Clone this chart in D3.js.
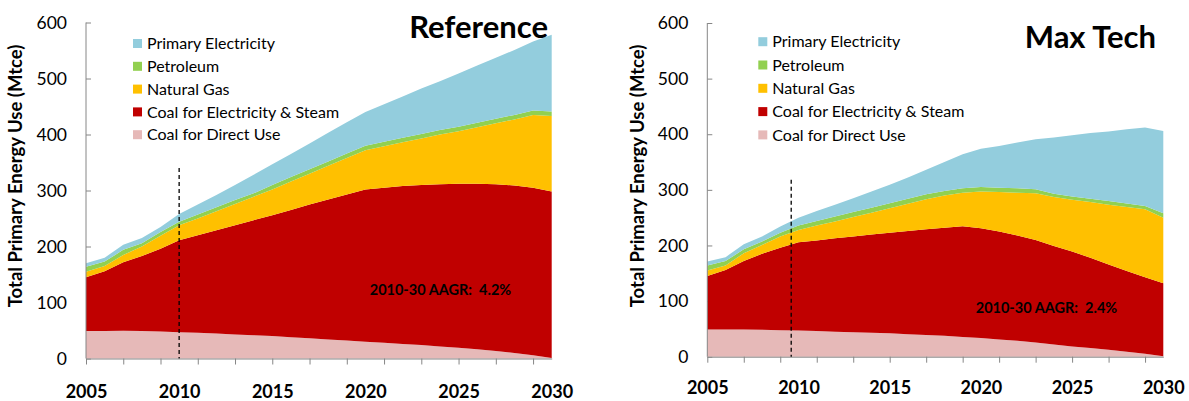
<!DOCTYPE html>
<html>
<head>
<meta charset="utf-8">
<script src="https://cdn.jsdelivr.net/npm/d3@7"></script>
<style>
  html, body { margin: 0; padding: 0; background: #fff; }
  svg { display: block; font-family: Lato, "Open Sans", sans-serif; }
</style>
</head>
<body>
<svg id="chart" width="1189" height="401"></svg>
<script>
// ---------------- DATA ----------------
const years = [2005,2006,2007,2008,2009,2010,2011,2012,2013,2014,2015,2016,2017,2018,2019,2020,2021,2022,2023,2024,2025,2026,2027,2028,2029,2030];

const seriesNames = ["Primary Electricity", "Petroleum", "Natural Gas", "Coal for Electricity & Steam", "Coal for Direct Use"];
const seriesColors = ["#93CDDD", "#92D050", "#FFC000", "#C00000", "#E6B9B8"];

// Reference scenario (Mtce)
const refCoalDirect = [49,49,49.5,49,48,47,46,44.5,43,41.5,40,38,36,34,32,30,28,26,24,21.5,19,16.5,13.5,10,6,1];
const refCoalElec   = [96,107,122.5,134,148,164,174,184.5,195,205.5,216,227,239,250,261,272,277,282,286,289.5,293,295.5,297.5,299,299,297];
const refNaturalGas = [10,9,13,17,23,27,30,34,38,42,46,51,55,60,65,70,74,78,83,89,94,101,109,118,130,135];
const refPetroleum  = [9,8,9,6,7,6,7,7,7,6,8,8,8,8,8,8,8,8,8,8,8,8,8,8,8,8];
const refPrimaryEl  = [6,7,9,9,9,14,18,22,27,33,37,41,46,51,56,60,67,74,81,87,95,102,109,116,123,137];

// Max Tech scenario (Mtce)
const mtCoalDirect = [49,49,49,48.5,47.5,47,46,45,44,43,42,40.5,39,37.5,35.5,33.5,31,28.5,25.5,22,18.5,15.5,12.5,9,5.5,1];
const mtCoalElec   = [96,107,123,136.5,148.5,159,163,168,172,176.5,181,185.5,190,194.5,199,197.5,194,189.5,184.5,177,170.5,162.5,153.5,145,137.5,131];
const mtNaturalGas = [10,8,14,16,20,22,27,30,35,39.5,44,49,54,58,60.5,66,71,77,84,88,93,100,107,115,122,118];
const mtPetroleum  = [9,8,7,6,7,8,8,9,9,9,9,9,9,8,8,8,8,8,7,6,6,6,7,6.5,6,8];
const mtPrimaryEl  = [7,7,9,9,11,14,18,21,25,29,33,38,44,52,61,69,75,82,90,101,110,118,125,133.5,141,148];

const yTicks = [0,100,200,300,400,500,600];
const xTickYears = [2005,2007,2009,2011,2013,2015,2017,2019,2021,2023,2025,2027,2029];
const xLabels = [2005,2010,2015,2020,2025,2030];

const yAxisTitle = "Total Primary Energy Use (Mtce)";
const panelTitles = ["Reference", "Max Tech"];
const aagrLabels = ["2010-30 AAGR:  4.2%", "2010-30 AAGR:  2.4%"];
const dashYears = [2010, 2009.6];
const dashTops = [340, 318];

// ---------------- DRAW ----------------
const svg = d3.select("#chart");
const keys = ["cd", "ce", "ng", "pet", "pe"]; // bottom -> top
const keyColor = { pe: seriesColors[0], pet: seriesColors[1], ng: seriesColors[2], ce: seriesColors[3], cd: seriesColors[4] };

function drawPanel(p) {
  const g = svg.append("g");
  const x = d3.scaleLinear().domain([2005, 2030]).range([p.x0, p.x1]);
  const y = d3.scaleLinear().domain([0, 600]).range([p.yb, p.yt]);

  const table = years.map((yr, i) => ({
    year: yr, cd: p.cd[i], ce: p.ce[i], ng: p.ng[i], pet: p.pet[i], pe: p.pe[i]
  }));
  const stacked = d3.stack().keys(keys)(table);

  // y axis ticks (inside) drawn under areas
  const yAxis = d3.axisLeft(y).tickValues(yTicks).tickSizeInner(-5).tickSizeOuter(0).tickPadding(19);
  const ya = g.append("g").attr("transform", `translate(${p.x0},0)`).call(yAxis);
  ya.select(".domain").remove();
  ya.selectAll(".tick line").attr("stroke", "#868686");
  ya.selectAll(".tick text").attr("font-size", 17.5).attr("fill", "#000").attr("font-family", "Lato");

  const area = d3.area()
    .x(d => x(d.data.year))
    .y0(d => y(d[0]))
    .y1(d => y(d[1]));

  g.append("g").selectAll("path").data(stacked).join("path")
    .attr("d", area)
    .attr("fill", d => keyColor[d.key])
    .attr("stroke", "none");

  // axis lines
  g.append("line").attr("x1", p.x0).attr("x2", p.x0).attr("y1", y(600)).attr("y2", y(0))
    .attr("stroke", "#868686").attr("stroke-width", 1);

  const xAxis = d3.axisBottom(x).tickValues(xTickYears).tickFormat("").tickSizeInner(6).tickSizeOuter(0);
  const xa = g.append("g").attr("transform", `translate(0,${p.yb})`).call(xAxis);
  xa.select(".domain").attr("stroke", "#868686");
  xa.selectAll(".tick line").attr("stroke", "#868686");

  const xLab = d3.axisBottom(x).tickValues(xLabels).tickFormat(d3.format("d")).tickSize(0).tickPadding(p.labPad);
  const xl = g.append("g").attr("transform", `translate(0,${p.yb})`).call(xLab);
  xl.select(".domain").remove();
  xl.selectAll(".tick text").attr("font-size", 18).attr("font-weight", "bold").attr("fill", "#000").attr("font-family", "Lato");

  // dashed 2010 line
  g.append("line")
    .attr("x1", x(p.dashYear)).attr("x2", x(p.dashYear))
    .attr("y1", y(p.dashTop)).attr("y2", y(0))
    .attr("stroke", "#000").attr("stroke-width", 1.3).attr("stroke-dasharray", "4,3");

  // y axis title
  g.append("text")
    .attr("transform", `translate(${p.titleX},${p.titleY}) rotate(-90)`)
    .attr("text-anchor", "middle")
    .attr("font-size", 18.5).attr("font-weight", "bold")
    .text(yAxisTitle);

  // panel title
  g.append("text")
    .attr("x", p.headX).attr("y", p.headY)
    .attr("text-anchor", "end")
    .attr("font-size", 31).attr("font-weight", "bold")
    .text(p.head);

  // AAGR annotation
  g.append("text")
    .attr("x", p.aagrX).attr("y", p.aagrY)
    .attr("text-anchor", "middle")
    .attr("font-size", 14.5).attr("font-weight", "bold")
    .attr("xml:space", "preserve")
    .style("white-space", "pre")
    .text(p.aagr);

  // legend
  const lg = g.append("g");
  seriesNames.forEach((name, i) => {
    const cy = p.legY0 + i * p.legStep;
    lg.append("rect").attr("x", p.legX).attr("y", cy - 4.5).attr("width", 9).attr("height", 9)
      .attr("fill", seriesColors[i]);
    lg.append("text").attr("x", p.legX + 14).attr("y", cy).attr("dy", "0.35em")
      .attr("font-size", 16).attr("fill", "#000").text(name);
  });
}

drawPanel({
  x0: 86, x1: 551.7, yb: 358.5, yt: 22.5, labPad: 27,
  cd: refCoalDirect, ce: refCoalElec, ng: refNaturalGas, pet: refPetroleum, pe: refPrimaryEl,
  dashYear: dashYears[0], dashTop: dashTops[0],
  titleX: 22, titleY: 176, head: panelTitles[0], headX: 548, headY: 38,
  aagr: aagrLabels[0], aagrX: 440.5, aagrY: 295,
  legX: 133, legY0: 43.5, legStep: 22.8
});

drawPanel({
  x0: 707.3, x1: 1163.3, yb: 356.7, yt: 23, labPad: 25,
  cd: mtCoalDirect, ce: mtCoalElec, ng: mtNaturalGas, pet: mtPetroleum, pe: mtPrimaryEl,
  dashYear: dashYears[1], dashTop: dashTops[1],
  titleX: 644, titleY: 176, head: panelTitles[1], headX: 1156, headY: 48,
  aagr: aagrLabels[1], aagrX: 1046.5, aagrY: 313,
  legX: 758.3, legY0: 41.7, legStep: 23.3
});
</script>
</body>
</html>
